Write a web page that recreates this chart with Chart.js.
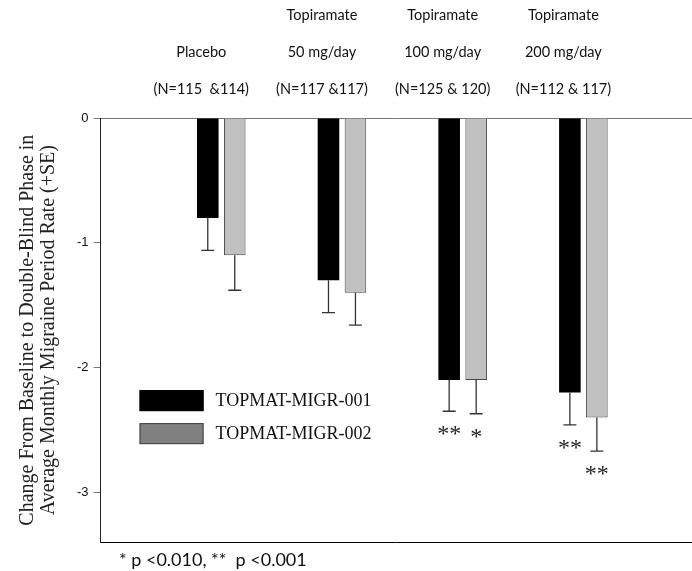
<!DOCTYPE html>
<html>
<head>
<meta charset="utf-8">
<script src="https://cdn.jsdelivr.net/npm/chart.js@4.4.1/dist/chart.umd.min.js"></script>
<style>
  html, body { margin: 0; padding: 0; background: #fff; }
  #wrap { width: 692px; height: 571px; position: relative; }
</style>
</head>
<body>
<div id="wrap"><canvas id="chart"></canvas></div>
<script>
// group labels, three lines above the plot
const groupLine1 = ["", "Topiramate", "Topiramate", "Topiramate"];
const groupLine2 = ["Placebo", "50 mg/day", "100 mg/day", "200 mg/day"];
const groupN = ["(N=115  &114)", "(N=117 &117)", "(N=125 & 120)", "(N=112 & 117)"];

const seriesNames = ["TOPMAT-MIGR-001", "TOPMAT-MIGR-002"];
const study001 = [-0.8, -1.3, -2.1, -2.2];
const study001SE = [0.26, 0.26, 0.25, 0.26];
const study002 = [-1.1, -1.4, -2.1, -2.4];
const study002SE = [0.28, 0.26, 0.27, 0.27];
const sig001 = ["", "", "**", "**"];
const sig002 = ["", "", "*", "**"];

const yTicks = [0, -1, -2, -3];
const footnote = "* p <0.010, **  p <0.001";

const toPoints = arr => arr.map((v, i) => ({ x: i, y: v }));

// +SE whiskers and significance stars under each bar
const errorBars = {
    id: 'errorBars',
    afterDatasetsDraw(chart) {
        const ctx = chart.ctx;
        const y = chart.scales.y;
        chart.data.datasets.forEach((ds, di) => {
            const meta = chart.getDatasetMeta(di);
            meta.data.forEach((bar, i) => {
                const v = ds.data[i].y;
                const yEnd = y.getPixelForValue(v - ds.errors[i]);
                ctx.save();
                ctx.strokeStyle = '#333';
                ctx.lineWidth = 1.3;
                ctx.beginPath();
                ctx.moveTo(bar.x, bar.y);
                ctx.lineTo(bar.x, yEnd);
                ctx.moveTo(bar.x - 6.5, yEnd);
                ctx.lineTo(bar.x + 6.5, yEnd);
                ctx.stroke();
                if (ds.stars[i]) {
                    ctx.fillStyle = '#222';
                    ctx.font = '24px "Liberation Serif"';
                    ctx.textAlign = 'center';
                    ctx.textBaseline = 'alphabetic';
                    ctx.fillText(ds.stars[i], bar.x, yEnd + 30);
                }
                ctx.restore();
            });
        });
    }
};

// legend drawn inside the plot area
const innerLegend = {
    id: 'innerLegend',
    afterDraw(chart, args, opts) {
        const ctx = chart.ctx;
        const a = chart.chartArea;
        chart.data.datasets.forEach((ds, di) => {
            const x = a.left + 39;
            const top = a.top + 272 + di * 33;
            ctx.save();
            ctx.fillStyle = opts.colors[di];
            ctx.fillRect(x, top, 64, 21);
            ctx.strokeStyle = opts.borders[di];
            ctx.lineWidth = 1;
            ctx.strokeRect(x + 0.5, top + 0.5, 63, 20);
            ctx.fillStyle = '#111';
            ctx.font = '18px "Liberation Serif"';
            ctx.textAlign = 'left';
            ctx.textBaseline = 'middle';
            ctx.fillText(ds.label, x + 76, top + 11);
            ctx.restore();
        });
    }
};

new Chart(document.getElementById('chart'), {
    type: 'bar',
    data: {
        datasets: [{
            label: seriesNames[0],
            data: toPoints(study001),
            errors: study001SE,
            stars: sig001,
            backgroundColor: '#000000',
            borderColor: '#000000',
            borderWidth: 0
        }, {
            label: seriesNames[1],
            data: toPoints(study002),
            errors: study002SE,
            stars: sig002,
            backgroundColor: '#c0c0c0',
            borderColor: '#444444',
            borderWidth: 1
        }]
    },
    options: {
        responsive: true,
        maintainAspectRatio: false,
        animation: false,
        categoryPercentage: 0.447,
        barPercentage: 0.8,
        layout: {
            padding: { top: -5.5, left: 14, right: 0, bottom: 0 }
        },
        scales: {
            x: {
                type: 'linear',
                position: 'top',
                offset: false,
                min: -1,
                max: 3.9,
                afterBuildTicks: scale => {
                    scale.ticks = groupLine2.map((_, i) => ({ value: i }));
                },
                ticks: {
                    autoSkip: false,
                    maxRotation: 0,
                    minRotation: 0,
                    padding: 3,
                    labelOffset: -20,
                    color: '#111',
                    font: { family: 'Lato', size: 14.5, lineHeight: 2.52 },
                    callback: (value, index) => [groupLine1[index], groupLine2[index], groupN[index]]
                },
                grid: { display: false, offset: false },
                border: { display: true, color: '#777', width: 1 }
            },
            x2: {
                type: 'linear',
                position: 'bottom',
                min: 0,
                max: 1,
                ticks: { display: false },
                grid: { display: false },
                border: { display: true, color: '#000', width: 1 },
                title: {
                    display: true,
                    text: "    " + footnote,
                    align: 'start',
                    color: '#111',
                    font: { family: 'Lato', size: 18, lineHeight: 1.1 },
                    padding: { top: 0, bottom: 1 }
                }
            },
            y: {
                min: -3.4,
                max: 0,
                afterBuildTicks: scale => {
                    scale.ticks = yTicks.map(v => ({ value: v }));
                },
                ticks: {
                    padding: 5,
                    color: '#111',
                    font: { family: 'Liberation Sans', size: 13 }
                },
                grid: {
                    drawOnChartArea: false,
                    drawTicks: true,
                    tickLength: 7,
                    color: '#777'
                },
                border: { display: true, color: '#222', width: 1 },
                title: {
                    display: true,
                    text: ["Change From Baseline to Double-Blind Phase in",
                           "Average Monthly Migraine Period Rate (+SE)"],
                    color: '#222',
                    font: { family: 'Liberation Serif', size: 20, lineHeight: 1.05 },
                    padding: { top: 3, bottom: 13 }
                }
            }
        },
        plugins: {
            legend: { display: false },
            tooltip: { enabled: false },
            innerLegend: {
                colors: ['#000000', '#808080'],
                borders: ['#000000', '#404040']
            }
        }
    },
    plugins: [errorBars, innerLegend]
});
</script>
</body>
</html>
